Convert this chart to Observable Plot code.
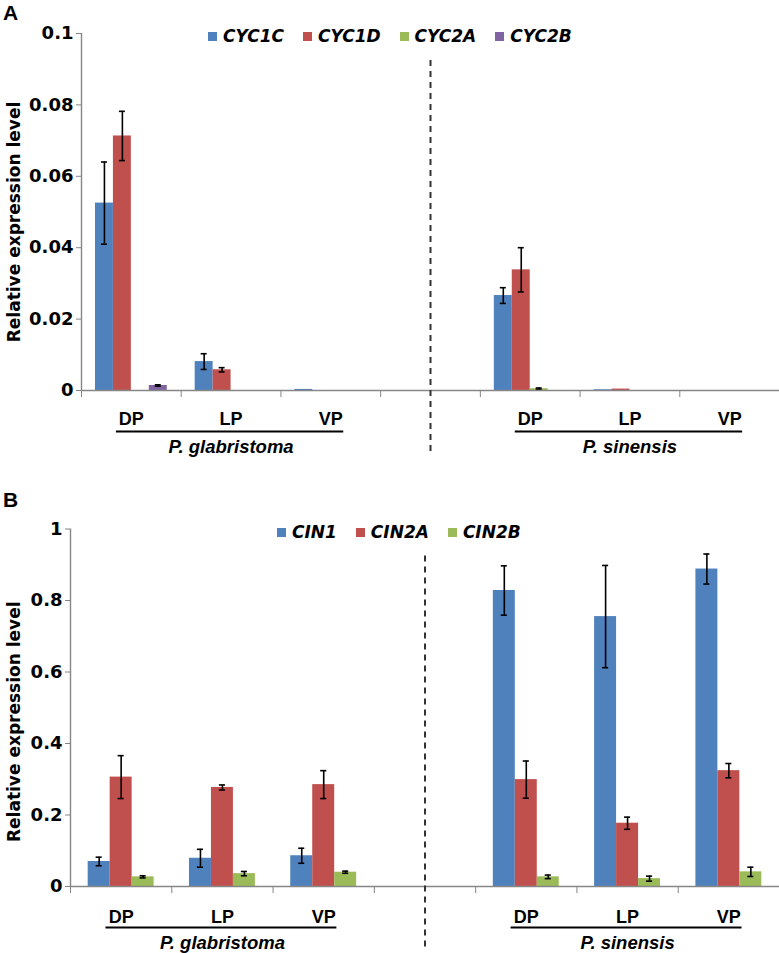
<!DOCTYPE html>
<html><head><meta charset="utf-8">
<script src="https://cdn.jsdelivr.net/npm/d3@7"></script>
<script src="https://cdn.jsdelivr.net/npm/@observablehq/plot@0.6"></script>
<style>
body{margin:0;background:#fff;}
#wrap{position:relative;width:779px;height:953px;overflow:hidden;background:#fff;}
.panel{position:absolute;left:0;}
.letter{position:absolute;font:bold 21px "Liberation Sans",Arial,sans-serif;line-height:21px;}
.legend{position:absolute;display:flex;align-items:center;gap:19px;font:italic bold 17px "DejaVu Sans",sans-serif;line-height:18px;white-space:nowrap;}
.legend .item{display:flex;align-items:center;}
.legend .sw{width:9px;height:9px;margin-right:6px;display:inline-block;}
</style></head>
<body>
<div id="wrap">
 <div id="chartA" class="panel" style="top:0"></div>
 <div id="chartB" class="panel" style="top:470px"></div>
 <div class="letter" style="left:3px;top:2px">A</div>
 <div class="letter" style="left:3px;top:489px">B</div>
 <div id="legendA" class="legend" style="left:208px;top:27px"></div>
 <div id="legendB" class="legend" style="left:277px;top:523px"></div>
</div>
<script>
// ---- shared categories ----
const categories = ["DP", "LP", "VP", "", "DP", "LP", "VP"];
const groupOf = [0, 0, 0, null, 1, 1, 1];
const speciesNames = ["P. glabristoma", "P. sinensis"];
const yTitle = "Relative expression level";

// ---- Panel A ----
const genesA = ["CYC1C", "CYC1D", "CYC2A", "CYC2B"];
const colorsA = ["#4F81BD", "#C0504D", "#9BBB59", "#8064A2"];
const CYC1C = [0.0525, 0.0081, 0.0003, null, 0.0266, 0.0002, 0];
const CYC1D = [0.0713, 0.0058, 0, null, 0.0338, 0.0004, 0];
const CYC2A = [0, 0, 0, null, 0.0005, 0, 0];
const CYC2B = [0.0014, 0, 0, null, 0, 0, 0];
const CYC1C_err = [0.0115, 0.0022, null, null, 0.0022, null, null];
const CYC1D_err = [0.0069, 0.0006, null, null, 0.0062, null, null];
const CYC2A_err = [null, null, null, null, 0.0002, null, null];
const CYC2B_err = [0.0002, null, null, null, null, null, null];
const yTicksA = [0, 0.02, 0.04, 0.06, 0.08, 0.1];
const yLabelsA = ["0", "0.02", "0.04", "0.06", "0.08", "0.1"];

// ---- Panel B ----
const genesB = ["CIN1", "CIN2A", "CIN2B"];
const colorsB = ["#4F81BD", "#C0504D", "#9BBB59"];
const CIN1 = [0.070, 0.079, 0.086, null, 0.828, 0.755, 0.888];
const CIN2A = [0.306, 0.277, 0.285, null, 0.299, 0.177, 0.324];
const CIN2B = [0.027, 0.036, 0.040, null, 0.027, 0.022, 0.041];
const CIN1_err = [0.012, 0.025, 0.021, null, 0.069, 0.143, 0.042];
const CIN2A_err = [0.060, 0.007, 0.039, null, 0.052, 0.017, 0.020];
const CIN2B_err = [0.003, 0.006, 0.003, null, 0.005, 0.007, 0.013];
const yTicksB = [0, 0.2, 0.4, 0.6, 0.8, 1];
const yLabelsB = ["0", "0.2", "0.4", "0.6", "0.8", "1"];

const gray = "#868686";

function makePanel(o) {
  const n = o.genes.length;
  const pad = (1 - n * o.barW) / 2;
  const rows = [];
  o.genes.forEach((g, gi) => o.values[gi].forEach((v, i) => {
    if (v == null) return;
    const x1 = i + pad + gi * o.barW;
    rows.push({gene: g, gi, i, v, e: o.errors[gi][i], x1, x2: x1 + o.barW, xc: x1 + o.barW / 2});
  }));
  const bars = rows.filter(d => d.v > 0);
  const errs = rows.filter(d => d.e != null);
  const groups = speciesNames.map((name, k) => {
    const idx = groupOf.map((g, i) => g === k ? i : -1).filter(i => i >= 0);
    const first = d3.min(idx), last = d3.max(idx);
    return {name, first, last, cx: (first + last + 1) / 2};
  });
  const gapIndex = categories.indexOf("");
  const centers = categories.map((c, i) => i + 0.5).filter((d, i) => categories[i] !== "");
  const yMax = o.yTicks[o.yTicks.length - 1];
  return Plot.plot({
    width: 779, height: o.height,
    marginLeft: o.marginLeft, marginRight: 0, marginTop: o.marginTop, marginBottom: o.marginBottom,
    x: {domain: [0, categories.length]},
    y: {domain: [0, yMax]},
    color: {domain: o.genes, range: o.colors},
    style: {fontFamily: "Liberation Sans, Arial, sans-serif", background: "white", overflow: "visible", color: "black"},
    marks: [
      Plot.rectY(bars, {x1: "x1", x2: "x2", y1: () => 0, y2: "v", fill: "gene"}),
      Plot.ruleX(errs, {x: "xc", y1: d => d.v - d.e, y2: d => d.v + d.e, stroke: "black", strokeWidth: 1.6}),
      Plot.ruleY(errs, {y: d => d.v + d.e, x1: d => d.xc - o.cap, x2: d => d.xc + o.cap, stroke: "black", strokeWidth: 1.6}),
      Plot.ruleY(errs, {y: d => d.v - d.e, x1: d => d.xc - o.cap, x2: d => d.xc + o.cap, stroke: "black", strokeWidth: 1.6}),
      Plot.ruleX([0], {stroke: gray, strokeWidth: 1.4}),
      Plot.ruleY([0], {stroke: gray, strokeWidth: 1.4}),
      Plot.axisY({ticks: o.yTicks, tickFormat: d => o.yLabels[o.yTicks.indexOf(d)], tickSize: 5, tickPadding: 3,
        stroke: gray, fill: "black", fontSize: 18, fontWeight: "bold", fontFamily: "DejaVu Sans", label: null}),
      Plot.axisX({ticks: d3.range(categories.length + 1), tickFormat: () => "", tickSize: 7, stroke: gray, label: null}),
      Plot.axisX({ticks: centers, tickFormat: d => categories[Math.floor(d)], tickSize: 0, tickPadding: o.catPad,
        fill: "black", fontSize: 18, fontWeight: "bold", label: null}),
      Plot.ruleY(groups, {y: () => 0, x1: d => d.first + 0.35, x2: d => d.last + 1 - 0.37, dy: 41, stroke: "black", strokeWidth: 2}),
      Plot.text(groups, {x: "cx", y: () => 0, text: "name", dy: 57, fontSize: 18.5, fontWeight: "bold", fontStyle: "italic", fill: "black"}),
      Plot.ruleX([gapIndex + 0.5], {stroke: "#333", strokeWidth: 2, strokeDasharray: "6,5", insetTop: 27, insetBottom: -62}),
      Plot.text([yTitle], {frameAnchor: "left", textAnchor: "middle", lineAnchor: "middle", rotate: -90, dx: -(o.marginLeft - 14), dy: o.titleDy,
        fontSize: 17, fontWeight: "bold", fontFamily: "DejaVu Sans", fill: "black"})
    ]
  });
}

function makeLegend(el, genes, colors) {
  genes.forEach((g, i) => {
    const item = document.createElement("div");
    item.className = "item";
    const sw = document.createElement("span");
    sw.className = "sw";
    sw.style.background = colors[i];
    const t = document.createElement("span");
    t.textContent = g;
    item.appendChild(sw); item.appendChild(t);
    el.appendChild(item);
  });
}

document.getElementById("chartA").appendChild(makePanel({
  genes: genesA, colors: colorsA,
  values: [CYC1C, CYC1D, CYC2A, CYC2B],
  errors: [CYC1C_err, CYC1D_err, CYC2A_err, CYC2B_err],
  yTicks: yTicksA, yLabels: yLabelsA,
  height: 470, marginLeft: 81, marginTop: 33, marginBottom: 80,
  barW: 0.18, cap: 0.03, catPad: 22, titleDy: 10
}));
document.getElementById("chartB").appendChild(makePanel({
  genes: genesB, colors: colorsB,
  values: [CIN1, CIN2A, CIN2B],
  errors: [CIN1_err, CIN2A_err, CIN2B_err],
  yTicks: yTicksB, yLabels: yLabelsB,
  height: 483, marginLeft: 70, marginTop: 58.5, marginBottom: 67,
  barW: 0.217, cap: 0.03, catPad: 24, titleDy: 14
}));
makeLegend(document.getElementById("legendA"), genesA, colorsA);
makeLegend(document.getElementById("legendB"), genesB, colorsB);
</script>
</body></html>
